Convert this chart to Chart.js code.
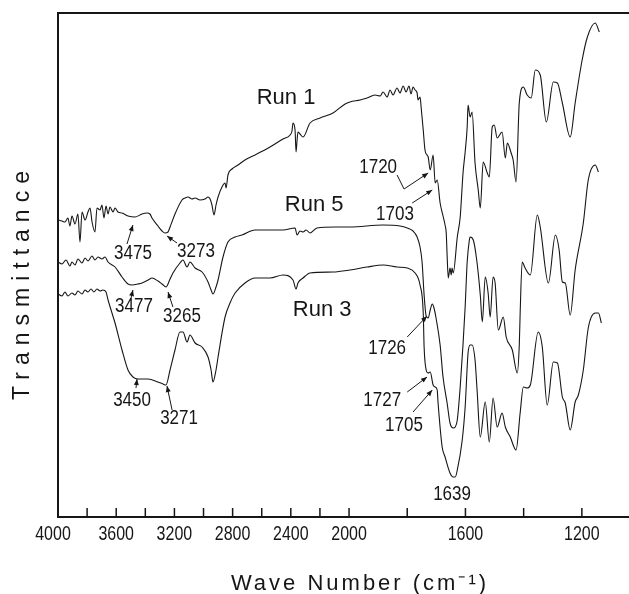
<!DOCTYPE html>
<html>
<head>
<meta charset="utf-8">
<script src="https://cdn.jsdelivr.net/npm/chart.js@4/dist/chart.umd.min.js"></script>
<style>
  html, body { margin: 0; padding: 0; background: #fff; }
  #wrap { width: 629px; height: 594px; }
</style>
</head>
<body>
<div id="wrap"><canvas id="irChart" width="629" height="594"></canvas></div>
<script>
// wave number axis, cm-1 (scale doubles below 2000)
const waveMax = 4000;
const waveMin = 1038;
const tickLabels = [4000, 3600, 3200, 2800, 2400, 2000, 1600, 1200];
const tickMarks = [3800, 3600, 3400, 3200, 3000, 2800, 2600, 2400, 2200, 2000, 1800, 1600, 1400, 1200];

// transmittance, arbitrary units (traces are offset)
const run1Wave = [4000,3973,3952,3932,3918,3904,3883,3863,3849,3835,3814,3794,3780,3766,3746,3732,3711,3698,3684,3670,
  3656,3643,3622,3608,3588,3560,3519,3471,3423,3388,3368,3354,3313,3285,3265,3244,3230,3196,3148,3127,
  3106,3079,3058,3024,2990,2969,2955,2942,2928,2914,2900,2873,2852,2845,2832,2804,2763,2715,2646,2543,
  2454,2405,2392,2385,2371,2364,2357,2351,2337,2316,2268,2199,2110,2027,1997,1962,1938,1911,1893,1883,
  1869,1859,1849,1835,1825,1814,1804,1794,1787,1780,1773,1766,1763,1756,1752,1745,1739,1732,1728,1721,
  1711,1704,1697,1687,1677,1670,1666,1663,1659,1653,1649,1646,1642,1628,1618,1608,1601,1594,1591,1584,
  1577,1567,1556,1549,1539,1525,1518,1508,1501,1491,1474,1463,1456,1443,1436,1426,1415,1401,1388,1374,
  1360,1343,1322,1298,1284,1267,1240,1223,1199,1181,1154,1140];
const run1Trans = [297,296,295,299,291,301,293,303,275,305,297,305,309,295,285,309,307,312,299,311,
  303,310,305,309,305,304,301,300,303,304,303,299,291,286,284,285,290,303,317,319,
  320,318,319,317,318,320,318,312,302,312,320,330,334,329,342,348,352,357,362,370,
  378,382,386,394,387,365,377,385,383,380,394,399,404,413,415,417,419,422,421,425,
  420,427,422,429,424,431,425,431,423,430,427,424,417,420,409,387,367,362,360,347,
  362,334,337,314,301,292,284,262,239,249,242,249,244,280,300,345,365,390,412,400,
  405,354,327,309,355,344,340,390,392,379,385,359,374,364,357,335,414,430,422,419,
  447,442,395,435,434,414,380,414,457,480,494,485];

const run5Wave = [4000,3973,3945,3918,3904,3883,3863,3835,3814,3794,3766,3746,3725,3698,3677,3656,3608,3560,3519,3491,
  3450,3423,3381,3354,3313,3285,3258,3230,3210,3162,3141,3113,3093,3058,3010,2969,2948,2935,2914,2900,
  2866,2832,2783,2735,2646,2543,2454,2371,2357,2337,2316,2295,2268,2220,2096,1997,1883,1825,1800,1780,
  1766,1756,1749,1742,1735,1728,1721,1714,1708,1701,1687,1677,1663,1653,1642,1635,1628,1618,1608,1601,
  1594,1587,1584,1573,1560,1549,1542,1532,1522,1515,1505,1498,1487,1470,1460,1439,1422,1415,1412,1405,
  1395,1377,1353,1343,1315,1291,1278,1267,1257,1240,1223,1195,1178,1154,1143];
const run5Trans = [255,253,257,251,255,252,258,254,259,256,261,257,260,258,260,255,250,240,233,232,
  233,234,237,239,236,233,230,238,244,254,257,250,255,249,245,235,227,223,230,237,
  260,275,280,282,287,287,287,289,282,286,285,287,284,289,290,290,292,291,289,286,
  280,270,255,222,201,199,207,213,209,199,172,140,114,94,89,90,97,130,174,210,
  255,276,280,277,254,222,195,240,224,200,240,234,187,200,180,167,144,172,204,255,
  249,242,302,290,234,282,267,235,234,202,247,294,337,352,345];

const run3Wave = [4000,3973,3952,3932,3904,3883,3863,3835,3814,3794,3773,3753,3732,3711,3691,3670,3656,3629,3608,3560,
  3519,3485,3450,3381,3313,3278,3258,3230,3196,3162,3141,3113,3093,3058,3010,2969,2948,2935,2914,2900,
  2852,2818,2783,2715,2646,2543,2454,2385,2364,2351,2316,2268,2110,1997,1938,1883,1835,1800,1773,1756,
  1745,1742,1735,1728,1721,1711,1704,1697,1694,1680,1670,1653,1642,1635,1628,1611,1601,1591,1584,1577,
  1567,1560,1549,1532,1518,1505,1491,1474,1463,1446,1426,1412,1401,1388,1377,1350,1336,1319,1298,1284,
  1267,1257,1240,1223,1212,1195,1178,1154,1143,1133];
const run3Trans = [223,221,225,221,224,222,226,223,227,225,228,225,228,226,227,225,217,204,194,167,
  147,140,138,138,135,133,132,147,167,185,185,175,182,174,170,160,147,135,147,160,
  200,214,224,234,239,239,242,237,228,234,239,244,245,247,250,252,250,249,244,232,
  204,170,147,144,145,132,130,127,114,70,60,44,40,40,47,77,110,164,172,172,
  157,127,80,115,75,119,90,104,90,80,67,104,130,129,132,185,170,112,155,154,
  120,114,87,115,122,147,189,204,204,194];

// trace names and band labels, placed in data units [wave, trans]
const runNames = [['Run 1', 2433, 419], ['Run 5', 2240, 312], ['Run 3', 2185, 207]];
const bandLabels = [
  ['3475', 3485, 264], ['3273', 3052, 266], ['3477', 3478, 211], ['3265', 3148, 201],
  ['3450', 3491, 117], ['3271', 3168, 99], ['1720', 1900, 350], ['1703', 1842, 303],
  ['1726', 1869, 169], ['1727', 1886, 117], ['1705', 1811, 92], ['1639', 1646, 23]
];
const bandArrows = [
  [[3526, 273], [3485, 292]],
  [[3182, 274], [3251, 281]],
  [[3498, 219], [3485, 227]],
  [[3210, 210], [3244, 225]],
  [[3464, 129], [3457, 138]],
  [[3216, 107], [3251, 131]],
  [[1835, 342], [1811, 328], [1728, 344]],
  [[1783, 314], [1714, 327]],
  [[1800, 180], [1732, 201]],
  [[1800, 125], [1732, 140]],
  [[1780, 105], [1714, 127]]
];

// IR charts use a doubled scale below 2000 cm-1
class WaveScale extends Chart.LinearScale {
  warp(v) { return v >= 2000 ? 4000 - v : 2000 + 2 * (2000 - v); }
  getPixelForValue(v) {
    const a = this.warp(this.max), b = this.warp(this.min);
    return this.getPixelForDecimal((this.warp(v) - a) / (b - a));
  }
  getValueForPixel(p) {
    const a = this.warp(this.max), b = this.warp(this.min);
    const u = a + this.getDecimalForPixel(p) * (b - a);
    return u <= 2000 ? 4000 - u : 2000 - (u - 2000) / 2;
  }
}
WaveScale.id = 'wave';
WaveScale.defaults = Chart.LinearScale.defaults;
Chart.register(WaveScale);

function toPoints(xs, ys) {
  return xs.map((x, i) => ({ x: x, y: ys[i] }));
}

function narrowText(ctx, text, x, y, sx) {
  ctx.save();
  ctx.translate(x, y);
  ctx.scale(sx, 1);
  ctx.fillText(text, 0, 0);
  ctx.restore();
}

const ink = '#161616';

const decorPlugin = {
  id: 'decor',
  afterDatasetsDraw(chart) {
    const ctx = chart.ctx;
    const xs = chart.scales.x, ys = chart.scales.y;
    const area = chart.chartArea;
    ctx.save();
    ctx.strokeStyle = ink;
    ctx.fillStyle = ink;

    // frame: left, top, bottom
    ctx.lineWidth = 2;
    ctx.beginPath();
    ctx.moveTo(area.right, area.top);
    ctx.lineTo(area.left, area.top);
    ctx.lineTo(area.left, area.bottom);
    ctx.lineTo(area.right, area.bottom);
    ctx.stroke();

    // ticks point inward
    ctx.lineWidth = 1.5;
    tickMarks.forEach(v => {
      const px = xs.getPixelForValue(v);
      ctx.beginPath();
      ctx.moveTo(px, area.bottom);
      ctx.lineTo(px, area.bottom - 9);
      ctx.stroke();
    });

    ctx.textAlign = 'center';
    ctx.textBaseline = 'middle';
    ctx.font = '20px "Liberation Sans", Arial, sans-serif';
    tickLabels.forEach(v => {
      const px = xs.getPixelForValue(v) - (v === waveMax ? 5 : 0);
      narrowText(ctx, String(v), px, area.bottom + 17, 0.8);
    });

    // axis titles
    ctx.font = '22px "Liberation Sans", Arial, sans-serif';
    ctx.letterSpacing = '3px';
    ctx.fillText('Wave Number (cm\u207B\u00B9)', 360, 584);
    ctx.save();
    ctx.translate(23, 282);
    ctx.rotate(-Math.PI / 2);
    ctx.font = '23px "Liberation Sans", Arial, sans-serif';
    ctx.letterSpacing = '7px';
    ctx.fillText('Transmittance', 0, 0);
    ctx.restore();
    ctx.letterSpacing = '0px';

    // trace names
    ctx.font = '22px "Liberation Sans", Arial, sans-serif';
    runNames.forEach(([t, w, v]) => {
      ctx.fillText(t, xs.getPixelForValue(w), ys.getPixelForValue(v));
    });

    // band labels
    ctx.font = '20px "Liberation Sans", Arial, sans-serif';
    bandLabels.forEach(([t, w, v]) => {
      narrowText(ctx, t, xs.getPixelForValue(w), ys.getPixelForValue(v), 0.85);
    });

    // arrows
    ctx.lineWidth = 1;
    bandArrows.forEach(pts => {
      const p = pts.map(([w, v]) => [xs.getPixelForValue(w), ys.getPixelForValue(v)]);
      ctx.beginPath();
      ctx.moveTo(p[0][0], p[0][1]);
      for (let i = 1; i < p.length; i++) ctx.lineTo(p[i][0], p[i][1]);
      ctx.stroke();
      const [x1, y1] = p[p.length - 2];
      const [x2, y2] = p[p.length - 1];
      const ang = Math.atan2(y2 - y1, x2 - x1);
      const len = 6, half = 2.5;
      ctx.beginPath();
      ctx.moveTo(x2, y2);
      ctx.lineTo(x2 - len * Math.cos(ang) + half * Math.sin(ang), y2 - len * Math.sin(ang) - half * Math.cos(ang));
      ctx.lineTo(x2 - len * Math.cos(ang) - half * Math.sin(ang), y2 - len * Math.sin(ang) + half * Math.cos(ang));
      ctx.closePath();
      ctx.fill();
    });
    ctx.restore();
  }
};

const lineStyle = {
  borderColor: ink,
  borderWidth: 1.1,
  pointRadius: 0,
  fill: false,
  cubicInterpolationMode: 'monotone'
};

new Chart(document.getElementById('irChart'), {
  type: 'line',
  data: {
    datasets: [
      Object.assign({ label: 'Run 1', data: toPoints(run1Wave, run1Trans) }, lineStyle),
      Object.assign({ label: 'Run 5', data: toPoints(run5Wave, run5Trans) }, lineStyle),
      Object.assign({ label: 'Run 3', data: toPoints(run3Wave, run3Trans) }, lineStyle)
    ]
  },
  options: {
    responsive: false,
    animation: false,
    layout: { padding: { left: 58, top: 13, right: 0, bottom: 77 } },
    scales: {
      x: { type: 'wave', min: waveMin, max: waveMax, display: false },
      y: { type: 'linear', min: 0, max: 504, display: false }
    },
    plugins: {
      legend: { display: false },
      tooltip: { enabled: false }
    }
  },
  plugins: [decorPlugin]
});
</script>
</body>
</html>
